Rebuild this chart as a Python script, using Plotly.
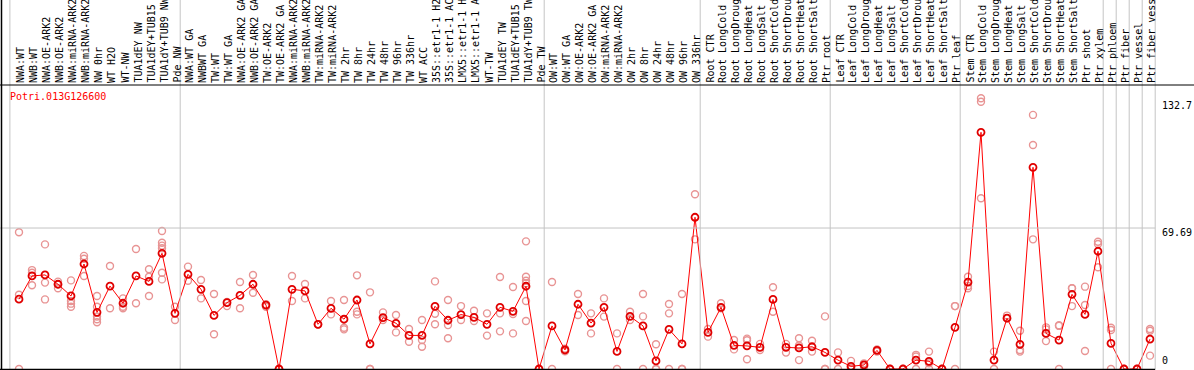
import plotly.graph_objects as go

gene = "Potri.013G126600"

labels = ["NWA:WT", "NWB:WT", "NWA:OE-ARK2", "NWB:OE-ARK2", "NWA:miRNA-ARK2", "NWB:miRNA-ARK2",
          "NW 0hr", "WT H2O", "WT-NW", "TUA1dEY NW", "TUA1dEY+TUB15 NW", "TUA1dY+TUB9 NW", "Pde NW",
          "NWA:WT GA", "NWBWT GA", "TW:WT", "TW:WT GA", "NWA:OE-ARK2 GA", "NWB:OE-ARK2 GA",
          "TW:OE-ARK2", "TW:OE-ARK2 GA", "NWA:miRNA-ARK2 GA", "NWB:miRNA-ARK2 GA", "TW:miRNA-ARK2",
          "TW:miRNA-ARK2 GA", "TW 2hr", "TW 8hr", "TW 24hr", "TW 48hr", "TW 96hr", "TW 336hr",
          "WT ACC", "35S::etr1-1 H2O", "35S::etr1-1 ACC", "LMX5::etr1-1 H2O", "LMX5::etr1-1 ACC",
          "WT-TW", "TUA1dEY TW", "TUA1dEY+TUB15 TW", "TUA1dY+TUB9 TW", "Pde TW",
          "OW:WT", "OW:WT GA", "OW:OE-ARK2", "OW:OE-ARK2 GA", "OW:miRNA-ARK2", "OW:miRNA-ARK2 GA",
          "OW 2hr", "OW 8hr", "OW 24hr", "OW 48hr", "OW 96hr", "OW 336hr",
          "Root CTR", "Root LongCold", "Root LongDrought", "Root LongHeat", "Root LongSalt",
          "Root ShortCold", "Root ShortDrought", "Root ShortHeat", "Root ShortSalt", "Ptr root",
          "Leaf CTR", "Leaf LongCold", "Leaf LongDrought", "Leaf LongHeat", "Leaf LongSalt",
          "Leaf ShortCold", "Leaf ShortDrought", "Leaf ShortHeat", "Leaf ShortSalt", "Ptr leaf",
          "Stem CTR", "Stem LongCold", "Stem LongDrought", "Stem LongHeat", "Stem LongSalt",
          "Stem ShortCold", "Stem ShortDrought", "Stem ShortHeat", "Stem ShortSalt", "Ptr shoot",
          "Ptr xylem", "Ptr phloem", "Ptr fiber", "Ptr vessel", "Ptr fiber vessel"]

means = [34.5, 46.0, 46.5, 41.9, 36.1, 51.9, 28.0, 41.0, 32.5, 46.0, 43.3, 57.2, 27.5,
         46.8, 39.4, 26.5, 32.8, 36.4, 41.9, 31.6, 0, 39.4, 38.6, 22.1, 30.0,
         24.6, 34.1, 12.4, 25.4, 22.6, 16.6, 16.6, 31.0, 24.1, 26.9, 25.5, 22.1, 30.5, 28.5, 40.9, 0,
         21.3, 9.4, 32.0, 22.7, 30.5, 8.7, 26.0, 21.3, 4.0, 19.6, 12.4, 75.0,
         18.1, 30.5, 11.7, 11.4, 10.7, 34.4, 10.7, 10.4, 11.0, 8.2,
         4.4, 1.3, 2.0, 9.2, 0, 0, 4.4, 3.8, 0, 20.6,
         42.9, 117.0, 4.4, 25.1, 12.2, 99.7, 17.6, 14.3, 36.9, 27.0,
         58.2, 12.7, 0, 0, 14.8]

replicates = [
    [67.6, 36.7, 0], [48.9, 47.6, 41.4], [61.6, 42.7, 34.4], [43.2, 41.9, 39.9],
    [43.8, 33.6, 32.3, 30.8], [55.9, 54.5, 46.0], [36.1, 30.8, 25.9, 24.6, 23.1], [50.9, 30.0],
    [34.9, 30.8, 30.0], [59.3, 32.5], [49.3, 45.6, 36.1], [68.2, 62.4, 61.0, 59.7, 47.6, 44.3],
    [30.8, 24.2], [50.6, 43.6], [44.0, 34.9], [37.1, 17.2], [33.1, 31.1], [43.0, 30.0],
    [46.5, 37.7], [32.0, 30.8], [0, 0], [46.0, 33.6], [42.0, 34.9], [22.1, 22.1],
    [33.6, 27.0], [34.1, 20.4, 19.6], [46.3, 28.3, 27.0], [37.9, 0, 0], [28.0, 24.2],
    [26.7, 18.1], [19.8, 13.5], [24.2, 14.3, 11.0], [43.3, 27.3, 22.1], [34.1, 21.7, 15.2],
    [31.1, 24.2], [28.8, 23.7], [27.5, 16.5], [45.5, 27.5, 18.6], [40.5, 27.2, 17.6],
    [63.1, 45.6, 43.6, 42.4, 33.6, 23.7], [0, 0], [43.0, 0], [10.0, 8.7], [37.1, 26.7],
    [27.5, 17.6], [34.9, 25.9], [17.6, 0], [28.3, 24.2], [37.1, 26.0, 0], [12.2, 0, 0],
    [32.1, 27.5, 0], [37.1, 0, 0], [86.4, 64.1], [19.8, 16.0], [32.5, 30.0], [14.3, 9.7],
    [15.0, 14.2, 4.8], [12.4, 9.4], [40.4, 28.3], [12.4, 8.1], [15.2, 11.6, 4.4], [14.0, 8.6],
    [26.0, 0, 0], [8.2, 0], [4.0, 0, 0], [2.8, 1.2], [9.7, 8.6], [0, 0], [0, 0],
    [7.0, 6.2, 0], [8.6, 2.8, 0], [0, 0], [31.1, 31.1, 0], [45.6, 41.0, 39.9],
    [133.8, 132.1, 84.4], [8.6, 0], [26.4, 25.1], [18.9, 9.4, 8.6], [125.6, 110.7, 64.1],
    [20.6, 19.6, 13.8], [21.6, 21.3, 0], [39.9, 39.9, 31.1], [40.7, 31.6, 8.9],
    [62.9, 61.8, 50.3], [20.4, 19.3, 0], [0, 0], [0, 0], [19.8, 18.9, 6.6]]

group_ends = [12, 40, 52, 62, 72, 83, 84, 85, 86, 87]
y_ticks = [132.7, 69.69, 0]
y_tick_text = ["132.7", "69.69", "0"]

# ---- layout geometry ----
W, H = 1194, 370
ML, MR, MT, MB = 1, 37, 85, 1
PW = W - ML - MR
PH = H - MT - MB
STEP = 13.0
x0 = -18.0 / STEP
x1 = x0 + PW / STEP
YMAX = PH / 2.023

def px_x(px):
    return (px - ML) / PW

def px_y(py):
    return (H - MB - py) / PH

def d_to_paper(d):
    return (d - x0) / (x1 - x0)

FONT = "DejaVu Sans Mono"

rx, ry = [], []
for i, reps in enumerate(replicates):
    for v in reps:
        rx.append(i)
        ry.append(v)

fig = go.Figure()
fig.add_trace(go.Scatter(
    x=rx, y=ry, mode="markers",
    marker=dict(symbol="circle-open", size=7, color="#e89494", line=dict(width=1.4)),
    hoverinfo="skip", showlegend=False))
fig.add_trace(go.Scatter(
    x=list(range(len(means))), y=means, mode="lines+markers",
    line=dict(color="#ff0000", width=1),
    marker=dict(symbol="circle-open", size=7, color="#e00000", line=dict(width=1.8)),
    showlegend=False))

shapes = []
gray = "#c4c4c4"
sep_positions = [-0.7] + [g + 0.4 for g in group_ends]
for s in sep_positions:
    xp = d_to_paper(s)
    shapes.append(dict(type="line", xref="paper", yref="paper", x0=xp, x1=xp,
                       y0=0, y1=px_y(0), line=dict(color=gray, width=1)))
shapes.append(dict(type="line", xref="paper", yref="y", x0=px_x(0), x1=d_to_paper(87.4),
                   y0=69.69, y1=69.69, line=dict(color=gray, width=1)))
shapes.append(dict(type="line", xref="paper", yref="paper", x0=px_x(0), x1=px_x(W),
                   y0=1, y1=1, line=dict(color="black", width=1)))
shapes.append(dict(type="line", xref="paper", yref="paper", x0=px_x(1.5), x1=px_x(1.5),
                   y0=px_y(370), y1=px_y(0), line=dict(color="black", width=1.5)))
shapes.append(dict(type="line", xref="paper", yref="paper", x0=px_x(0), x1=d_to_paper(87.4),
                   y0=px_y(369.5), y1=px_y(369.5), line=dict(color="black", width=1.5)))

annotations = []
for i, lab in enumerate(labels):
    annotations.append(dict(
        x=i, xref="x", y=px_y(84), yref="paper", text=lab, textangle=-90,
        xanchor="center", yanchor="bottom", showarrow=False, xshift=2,
        font=dict(family=FONT, size=10, color="black"), borderpad=0))
annotations.append(dict(
    x=px_x(9), xref="paper", y=px_y(90), yref="paper", text=gene,
    xanchor="left", yanchor="top", showarrow=False,
    font=dict(family=FONT, size=10, color="#ff0000"), borderpad=0))
for v, t in zip(y_ticks, y_tick_text):
    annotations.append(dict(
        x=px_x(1161), xref="paper", y=v, yref="y", text=t,
        xanchor="left", yanchor=("bottom" if v == 0 else "top"), showarrow=False,
        yshift=2,
        font=dict(family=FONT, size=10, color="black"), borderpad=0))

fig.update_layout(
    width=W, height=H,
    margin=dict(l=ML, r=MR, t=MT, b=MB, pad=0, autoexpand=False),
    paper_bgcolor="white", plot_bgcolor="white",
    xaxis=dict(range=[x0, x1], visible=False, fixedrange=True),
    yaxis=dict(range=[0, YMAX], visible=False, fixedrange=True),
    shapes=shapes, annotations=annotations,
    hovermode="closest",
)

fig.write_html("out.html", config={"displayModeBar": False},
               post_script="document.body.style.margin='0';document.body.style.overflow='hidden';")
